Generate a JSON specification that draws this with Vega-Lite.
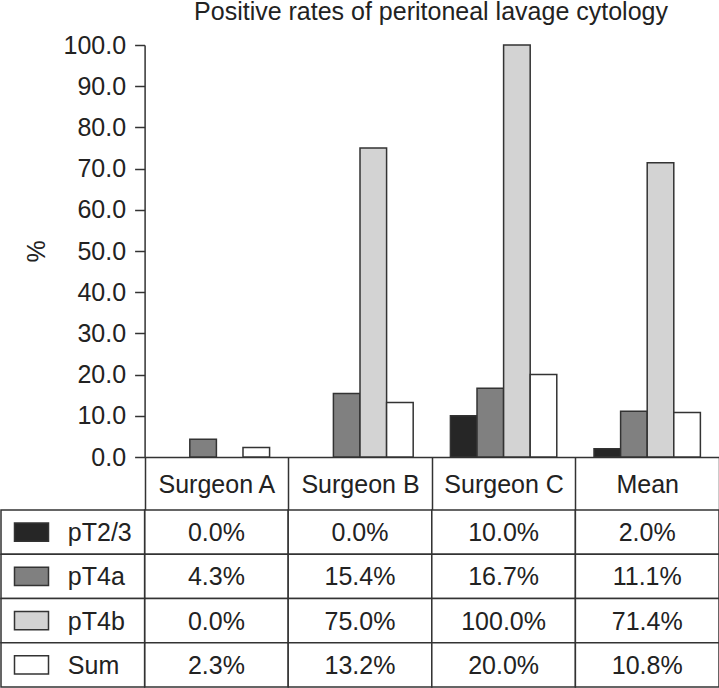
{
  "$schema": "https://vega.github.io/schema/vega-lite/v6.json",
  "padding": 0,
  "background": "white",
  "spacing": 53,
  "bounds": "flush",
  "config": {
    "view": {"stroke": null},
    "font": "Liberation Sans",
    "axis": {"labelFont": "Liberation Sans", "titleFont": "Liberation Sans"}
  },
  "datasets": {
    "rates": [
      {"group": "Surgeon A", "series": "pT2/3", "value": 0.0},
      {"group": "Surgeon A", "series": "pT4a", "value": 4.3},
      {"group": "Surgeon A", "series": "pT4b", "value": 0.0},
      {"group": "Surgeon A", "series": "Sum", "value": 2.3},
      {"group": "Surgeon B", "series": "pT2/3", "value": 0.0},
      {"group": "Surgeon B", "series": "pT4a", "value": 15.4},
      {"group": "Surgeon B", "series": "pT4b", "value": 75.0},
      {"group": "Surgeon B", "series": "Sum", "value": 13.2},
      {"group": "Surgeon C", "series": "pT2/3", "value": 10.0},
      {"group": "Surgeon C", "series": "pT4a", "value": 16.7},
      {"group": "Surgeon C", "series": "pT4b", "value": 100.0},
      {"group": "Surgeon C", "series": "Sum", "value": 20.0},
      {"group": "Mean", "series": "pT2/3", "value": 2.0},
      {"group": "Mean", "series": "pT4a", "value": 11.1},
      {"group": "Mean", "series": "pT4b", "value": 71.4},
      {"group": "Mean", "series": "Sum", "value": 10.8}
    ],
    "series": [
      {"series": "pT2/3"},
      {"series": "pT4a"},
      {"series": "pT4b"},
      {"series": "Sum"}
    ]
  },
  "vconcat": [
    {
      "width": 718,
      "height": 412,
      "title": {
        "text": "Positive rates of peritoneal lavage cytology",
        "fontSize": 25,
        "fontWeight": "normal",
        "color": "#222",
        "font": "Liberation Sans",
        "dx": 71,
        "offset": 8
      },
      "data": {"name": "rates"},
      "transform": [{"filter": "datum.value > 0"}],
      "mark": {"type": "bar", "stroke": "#333", "strokeWidth": 1.5},
      "encoding": {
        "x": {
          "field": "group",
          "type": "nominal",
          "sort": ["Surgeon A", "Surgeon B", "Surgeon C", "Mean"],
          "scale": {"domain": ["Surgeon A", "Surgeon B", "Surgeon C", "Mean"], "range": [143.6, 718], "paddingInner": 0, "paddingOuter": 0},
          "axis": {
            "title": null,
            "labelAngle": 0,
            "tickBand": "extent",
            "tickSize": 53,
            "tickWidth": 1.5,
            "tickColor": "#333",
            "domainColor": "#333",
            "domainWidth": 1.5,
            "labelFontSize": 25,
            "labelColor": "#222",
            "labelBaseline": "middle",
            "labelPadding": -26
          }
        },
        "xOffset": {
          "field": "series",
          "type": "nominal",
          "sort": ["pT2/3", "pT4a", "pT4b", "Sum"],
          "scale": {"domain": ["pT2/3", "pT4a", "pT4b", "Sum"], "paddingInner": 0, "paddingOuter": 0.7}
        },
        "y": {
          "field": "value",
          "type": "quantitative",
          "scale": {"domain": [0, 100], "nice": false},
          "axis": {
            "title": "%",
            "values": [0, 10, 20, 30, 40, 50, 60, 70, 80, 90, 100],
            "format": ".1f",
            "offset": -143.6,
            "grid": false,
            "tickSize": 10,
            "tickWidth": 1.5,
            "tickColor": "#333",
            "domainColor": "#333",
            "domainWidth": 1.5,
            "labelFontSize": 25,
            "labelColor": "#222",
            "labelPadding": 9,
            "titleFontSize": 25,
            "titleFontWeight": "normal",
            "titleColor": "#222",
            "titlePadding": 14
          }
        },
        "fill": {
          "field": "series",
          "type": "nominal",
          "scale": {"domain": ["pT2/3", "pT4a", "pT4b", "Sum"], "range": ["#262626", "#808080", "#d3d3d3", "#ffffff"]},
          "legend": null
        }
      }
    },
    {
      "width": 718,
      "height": 177,
      "layer": [
        {
          "data": {"name": "rates"},
          "mark": {"type": "rect", "fill": "white", "stroke": "#333", "strokeWidth": 1.5},
          "encoding": {
            "x": {"field": "group", "type": "nominal", "scale": {"domain": ["_", "Surgeon A", "Surgeon B", "Surgeon C", "Mean"], "paddingInner": 0, "paddingOuter": 0}, "axis": null},
            "y": {"field": "series", "type": "nominal", "scale": {"domain": ["pT2/3", "pT4a", "pT4b", "Sum"], "paddingInner": 0, "paddingOuter": 0}, "axis": null}
          }
        },
        {
          "data": {"name": "rates"},
          "transform": [{"calculate": "format(datum.value, '.1f') + '%'", "as": "txt"}],
          "mark": {"type": "text", "fontSize": 25, "color": "#222", "baseline": "middle", "align": "center", "dy": 1},
          "encoding": {
            "x": {"field": "group", "type": "nominal"},
            "y": {"field": "series", "type": "nominal"},
            "text": {"field": "txt"}
          }
        },
        {
          "data": {"name": "series"},
          "mark": {"type": "rect", "fill": "white", "stroke": "#333", "strokeWidth": 1.5},
          "encoding": {
            "x": {"datum": "_", "type": "nominal"},
            "y": {"field": "series", "type": "nominal"}
          }
        },
        {
          "data": {"name": "series"},
          "mark": {"type": "point", "filled": true, "shape": "M-1,-0.53L1,-0.53L1,0.53L-1,0.53Z", "size": 1156, "stroke": "#333", "strokeWidth": 1.5, "opacity": 1, "xOffset": -41.3},
          "encoding": {
            "x": {"datum": "_", "type": "nominal"},
            "y": {"field": "series", "type": "nominal"},
            "fill": {
              "field": "series",
              "type": "nominal",
              "scale": {"domain": ["pT2/3", "pT4a", "pT4b", "Sum"], "range": ["#262626", "#808080", "#d3d3d3", "#ffffff"]},
              "legend": null
            }
          }
        },
        {
          "data": {"name": "series"},
          "mark": {"type": "text", "fontSize": 25, "color": "#222", "baseline": "middle", "align": "left", "dx": -5, "dy": 1},
          "encoding": {
            "x": {"datum": "_", "type": "nominal"},
            "y": {"field": "series", "type": "nominal"},
            "text": {"field": "series"}
          }
        }
      ]
    }
  ]
}
